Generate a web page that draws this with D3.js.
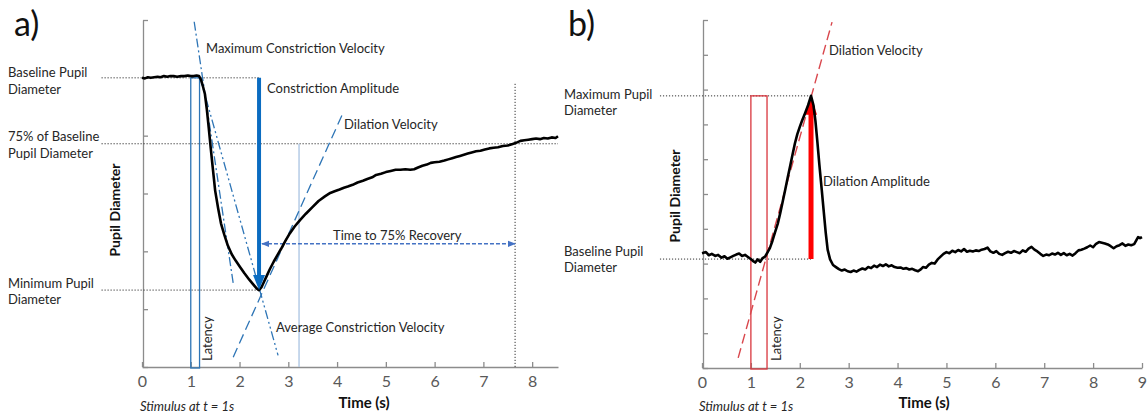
<!DOCTYPE html>
<html>
<head>
<meta charset="utf-8">
<script src="https://cdn.jsdelivr.net/npm/d3@7"></script>
<style>
  html, body { margin: 0; padding: 0; background: #fff; }
  svg { display: block; }
  text { font-family: Lato, "Open Sans", sans-serif; }
</style>
</head>
<body>
<svg id="chart" width="1148" height="414"></svg>
<script>
// ---- Panel a: pupillary light reflex (constriction) ----
const timeA = [0.00,0.06,0.12,0.18,0.25,0.32,0.38,0.45,0.52,0.58,0.65,0.72,0.80,0.87,0.94,1.00,1.06,1.12,1.17,
  1.21,1.25,1.29,1.33,1.37,1.41,1.45,1.50,1.56,1.62,1.69,1.76,1.84,1.92,2.01,2.10,2.20,2.28,2.35,2.40,
  2.45,2.50,2.56,2.62,2.70,2.78,2.85,2.94,3.03,3.13,3.24,3.36,3.50,3.62,3.75,3.86,3.95,4.05,4.14,4.22,
  4.32,4.42,4.53,4.62,4.72,4.80,4.90,5.00,5.10,5.20,5.30,5.40,5.50,5.58,5.66,5.75,5.84,5.92,6.00,6.10,
  6.20,6.28,6.36,6.44,6.52,6.60,6.68,6.76,6.85,6.94,7.03,7.12,7.21,7.30,7.40,7.50,7.60,7.68,7.76,7.84,
  7.92,8.00,8.08,8.16,8.24,8.32,8.40,8.48,8.53];
const pupilA = [5.00,4.99,5.01,5.00,5.01,5.02,5.01,5.03,5.02,5.03,5.03,5.02,5.03,5.03,5.04,5.03,5.03,5.04,5.03,
  4.97,4.85,4.72,4.45,4.12,3.78,3.45,3.05,2.75,2.48,2.28,2.10,1.95,1.84,1.73,1.62,1.51,1.43,1.36,1.33,
  1.38,1.47,1.58,1.69,1.82,1.94,2.04,2.18,2.31,2.43,2.54,2.65,2.77,2.87,2.95,3.01,3.04,3.07,3.10,3.12,
  3.15,3.19,3.22,3.25,3.28,3.32,3.34,3.37,3.39,3.41,3.41,3.42,3.41,3.42,3.45,3.48,3.50,3.53,3.54,3.55,
  3.57,3.59,3.61,3.63,3.65,3.67,3.69,3.71,3.73,3.74,3.76,3.78,3.79,3.80,3.82,3.83,3.855,3.88,3.91,3.92,
  3.93,3.94,3.95,3.94,3.96,3.95,3.97,3.96,3.99];
const xTicksA = [0,1,2,3,4,5,6,7,8];
const yTicksA = [0,1,2,3,4,5,6];

// key measures, panel a
const baselineA = 5.0;        // baseline pupil diameter
const minA = 1.33;            // minimum pupil diameter
const tMinA = 2.4;            // time of minimum
const level75A = 3.86;        // 75% of baseline
const tStimA = 1.0;           // stimulus onset
const tOnsetA = 1.18;         // constriction onset (end of latency)
const t75A = 7.65;            // time the curve regains 75% level
const tRefA = 3.22;           // reference time marker
const tRecoveryArrowLevel = 2.13;
const maxVelLineA = [[1.07, 5.97], [1.87, 1.45]];
const avgVelLineA = [[1.19, 5.01], [2.79, 0.20]];
const dilVelLineA = [[1.87, 0.17], [4.12, 4.39]];

// ---- Panel b: dilation response ----
const timeB = [0.00,0.08,0.14,0.20,0.27,0.33,0.40,0.46,0.52,0.58,0.64,0.70,0.76,0.82,0.88,0.94,0.99,1.04,1.09,1.14,1.19,1.24,1.29,
  1.34,1.39,1.44,1.49,1.55,1.60,1.65,1.70,1.75,1.80,1.85,1.90,1.95,2.00,2.05,2.11,2.17,2.23,
  2.28,2.32,2.36,2.40,2.45,2.49,2.53,2.57,2.62,2.68,2.74,2.80,2.86,2.92,2.98,3.04,3.10,3.16,3.22,3.28,
  3.34,3.40,3.46,3.52,3.58,3.64,3.70,3.76,3.82,3.88,3.94,4.00,4.06,4.12,4.18,4.24,4.30,4.36,4.42,4.48,
  4.52,4.58,4.64,4.70,4.76,4.82,4.88,4.94,5.00,5.06,5.12,5.18,5.24,5.30,5.36,5.42,5.48,5.54,5.60,5.66,
  5.72,5.78,5.84,5.90,5.96,6.02,6.08,6.14,6.20,6.26,6.32,6.38,6.44,6.50,6.56,6.62,6.68,6.74,6.80,6.86,
  6.92,6.98,7.04,7.10,7.16,7.22,7.28,7.34,7.40,7.46,7.52,7.58,7.64,7.70,7.76,7.82,7.88,7.94,8.00,8.06,
  8.12,8.18,8.24,8.30,8.36,8.42,8.48,8.54,8.60,8.66,8.72,8.78,8.84,8.88,8.92,8.96,9.00];
const pupilB = [3.30,3.33,3.24,3.28,3.22,3.25,3.17,3.21,3.14,3.18,3.22,3.26,3.29,3.22,3.25,3.19,3.14,3.08,3.03,3.12,3.05,3.16,3.20,
  3.32,3.45,3.65,3.88,4.15,4.45,4.78,5.11,5.45,5.78,6.12,6.45,6.72,6.93,7.12,7.33,7.55,7.82,
  7.55,7.10,6.50,5.85,5.11,4.50,3.90,3.40,3.12,2.96,2.90,2.84,2.80,2.83,2.78,2.76,2.80,2.77,2.82,2.86,
  2.83,2.90,2.87,2.94,2.90,2.97,2.93,2.98,2.92,2.95,2.90,2.88,2.89,2.85,2.87,2.83,2.85,2.81,2.78,2.84,
  2.90,2.88,2.97,3.02,3.00,3.12,3.20,3.28,3.33,3.30,3.37,3.33,3.39,3.35,3.42,3.34,3.37,3.35,3.38,3.36,
  3.40,3.42,3.46,3.35,3.31,3.36,3.28,3.25,3.30,3.34,3.31,3.36,3.33,3.30,3.38,3.34,3.43,3.48,3.40,3.35,
  3.28,3.22,3.26,3.24,3.29,3.26,3.31,3.25,3.30,3.24,3.28,3.23,3.30,3.38,3.40,3.43,3.47,3.52,3.47,3.57,
  3.62,3.60,3.58,3.55,3.50,3.44,3.50,3.53,3.58,3.51,3.55,3.53,3.56,3.66,3.76,3.73,3.76];
const xTicksB = [0,1,2,3,4,5,6,7,8,9];
const yTicksB = [0,1,2,3,4,5,6,7,8,9,10];

// key measures, panel b
const baselineB = 3.13;
const maxB = 7.82;
const tPeakB = 2.23;
const tStimB = 1.0;
const tOnsetB = 1.33;
const dilVelLineB = [[0.74, 0.29], [2.66, 9.94]];

// ---- drawing ----
const svg = d3.select("#chart");
const AXIS_GREY = "#8c8c8c";
const TICK_TEXT = "#595959";
const BLUE = "#2e75b6";
const BLUE_DARK = "#0b6cc1";
const RED = "#d9363e";

function drawAxes(x, y, xTicks, yTicks, x0, y0) {
  const gx = svg.append("g").attr("transform", `translate(0,${y0})`)
    .call(d3.axisBottom(x).tickValues(xTicks).tickSize(-5).tickSizeOuter(0).tickPadding(9).tickFormat(d3.format("d")));
  const gy = svg.append("g").attr("transform", `translate(${x0},0)`)
    .call(d3.axisLeft(y).tickValues(yTicks).tickSize(-5).tickSizeOuter(0).tickFormat(""));
  [gx, gy].forEach(g => {
    g.select(".domain").attr("stroke", AXIS_GREY).attr("stroke-width", 1.3);
    g.selectAll(".tick line").attr("stroke", AXIS_GREY).attr("stroke-width", 1.3);
    g.selectAll(".tick text").attr("fill", TICK_TEXT).attr("font-size", 16)
      .attr("font-family", "Lato, sans-serif");
  });
}

function seg(x, y, p, q, attrs) {
  const l = svg.append("line")
    .attr("x1", x(p[0])).attr("y1", y(p[1]))
    .attr("x2", x(q[0])).attr("y2", y(q[1]));
  Object.entries(attrs).forEach(([k, v]) => l.attr(k, v));
  return l;
}

function label(txt, px, py, opts = {}) {
  const t = svg.append("text").attr("x", px).attr("y", py).text(txt)
    .attr("font-size", opts.size || 13)
    .attr("fill", opts.fill || "#262626");
  if (opts.weight) t.attr("font-weight", opts.weight);
  if (opts.style) t.attr("font-style", opts.style);
  if (opts.anchor) t.attr("text-anchor", opts.anchor);
  if (opts.rotate) t.attr("transform", `rotate(-90,${px},${py})`);
  return t;
}

const dotted = { stroke: "#333", "stroke-width": 1, "stroke-dasharray": "1.2,1.8" };

// ===== Panel a =====
const xA = d3.scaleLinear().domain([0, 8.53]).range([142, 558]);
const yA = d3.scaleLinear().domain([0, 6]).range([367, 20]);

drawAxes(xA, yA, xTicksA, yTicksA, 143, 367);

// reference dotted lines
seg(xA, yA, [-0.83, baselineA], [tMinA, baselineA], dotted);
seg(xA, yA, [-0.83, level75A], [8.53, level75A], dotted);
seg(xA, yA, [-0.83, minA], [tMinA, minA], dotted);
seg(xA, yA, [t75A, 0], [t75A, 4.9], dotted);

// latency box
svg.append("rect")
  .attr("x", xA(tStimA)).attr("y", yA(baselineA))
  .attr("width", xA(tOnsetA) - xA(tStimA)).attr("height", yA(0) - yA(baselineA) + 1)
  .attr("fill", "none").attr("stroke", BLUE).attr("stroke-width", 1.3);

// thin reference marker
seg(xA, yA, [tRefA, 0], [tRefA, level75A], { stroke: "#a9c4e2", "stroke-width": 1.3 });

// velocity tangents
seg(xA, yA, maxVelLineA[0], maxVelLineA[1], { stroke: BLUE, "stroke-width": 1.3, "stroke-dasharray": "9,3,2,3" });
seg(xA, yA, avgVelLineA[0], avgVelLineA[1], { stroke: BLUE, "stroke-width": 1.3, "stroke-dasharray": "9,3,2,3,2,3" });
seg(xA, yA, dilVelLineA[0], dilVelLineA[1], { stroke: BLUE, "stroke-width": 1.3, "stroke-dasharray": "10,5" });

// time to 75% recovery arrow
const defs = svg.append("defs");
defs.append("marker").attr("id", "arrBlue").attr("viewBox", "0 0 10 10")
  .attr("refX", 9).attr("refY", 5).attr("markerWidth", 5).attr("markerHeight", 5)
  .attr("orient", "auto-start-reverse")
  .append("path").attr("d", "M0,1L10,5L0,9Z").attr("fill", "#4472c4");
seg(xA, yA, [tMinA + 0.06, tRecoveryArrowLevel], [t75A, tRecoveryArrowLevel],
  { stroke: "#4472c4", "stroke-width": 1.6, "stroke-dasharray": "4,2" })
  .attr("marker-start", "url(#arrBlue)").attr("marker-end", "url(#arrBlue)");

// pupil trace
const lineA = d3.line().x((d, i) => xA(timeA[i])).y(d => yA(d)).curve(d3.curveLinear);
svg.append("path").datum(pupilA).attr("d", lineA)
  .attr("fill", "none").attr("stroke", "#000").attr("stroke-width", 2.6)
  .attr("stroke-linejoin", "round");

// constriction amplitude arrow
{
  const ax = xA(tMinA), tip = yA(minA), headH = 15, headW = 12;
  svg.append("line").attr("x1", ax).attr("x2", ax).attr("y1", yA(baselineA)).attr("y2", tip - headH + 1)
    .attr("stroke", BLUE_DARK).attr("stroke-width", 4);
  svg.append("path")
    .attr("d", `M${ax - headW / 2},${tip - headH}L${ax + headW / 2},${tip - headH}L${ax},${tip}Z`)
    .attr("fill", BLUE_DARK);
}

// panel a text
label("a)", 14, 36, { size: 34, fill: "#111" });
label("Baseline Pupil", 8, 77);
label("Diameter", 8, 94);
label("75% of Baseline", 8, 141);
label("Pupil Diameter", 8, 158);
label("Minimum Pupil", 8, 288);
label("Diameter", 8, 304);
label("Maximum Constriction Velocity", 206, 53);
label("Constriction Amplitude", 267, 93);
label("Dilation Velocity", 344, 129);
label("Time to 75% Recovery", 333, 240);
label("Average Constriction Velocity", 276, 332);
label("Latency", 212, 361, { rotate: true });
label("Pupil Diameter", 120, 210, { rotate: true, anchor: "middle", weight: "bold", size: 14, fill: "#111" });
label("Time (s)", 364, 408, { anchor: "middle", weight: "bold", size: 15, fill: "#111" });
label("Stimulus at t = 1s", 140, 411, { style: "italic", size: 13 });

// ===== Panel b =====
const xB = d3.scaleLinear().domain([0, 9]).range([702, 1142]);
const yB = d3.scaleLinear().domain([0, 10]).range([368, 20]);

drawAxes(xB, yB, xTicksB, yTicksB, 703, 368);

seg(xB, yB, [-0.86, maxB], [tPeakB, maxB], dotted);
seg(xB, yB, [-0.86, baselineB], [tPeakB, baselineB], dotted);

svg.append("rect")
  .attr("x", xB(tStimB)).attr("y", yB(maxB))
  .attr("width", xB(tOnsetB) - xB(tStimB)).attr("height", yB(0) - yB(maxB) + 1)
  .attr("fill", "none").attr("stroke", RED).attr("stroke-width", 1.3);

seg(xB, yB, dilVelLineB[0], dilVelLineB[1], { stroke: "#d9474d", "stroke-width": 1.4, "stroke-dasharray": "10,5" });

// dilation amplitude arrow
{
  const ax = xB(tPeakB), tip = yB(maxB) + 1, headH = 18, headW = 12;
  svg.append("line").attr("x1", ax).attr("x2", ax).attr("y1", yB(baselineB)).attr("y2", tip + headH - 1)
    .attr("stroke", "#ff0000").attr("stroke-width", 5);
  svg.append("path")
    .attr("d", `M${ax - headW / 2},${tip + headH}L${ax + headW / 2},${tip + headH}L${ax},${tip}Z`)
    .attr("fill", "#ff0000");
}

const lineB = d3.line().x((d, i) => xB(timeB[i])).y(d => yB(d)).curve(d3.curveLinear);
svg.append("path").datum(pupilB).attr("d", lineB)
  .attr("fill", "none").attr("stroke", "#000").attr("stroke-width", 2.6)
  .attr("stroke-linejoin", "round");

label("b)", 568, 36, { size: 34, fill: "#111" });
label("Maximum Pupil", 564, 99);
label("Diameter", 564, 115);
label("Baseline Pupil", 564, 256);
label("Diameter", 564, 272);
label("Dilation Velocity", 829, 55);
label("Dilation Amplitude", 823, 186);
label("Latency", 781, 361, { rotate: true });
label("Pupil Diameter", 680, 196, { rotate: true, anchor: "middle", weight: "bold", size: 14, fill: "#111" });
label("Time (s)", 924, 408, { anchor: "middle", weight: "bold", size: 15, fill: "#111" });
label("Stimulus at t = 1s", 699, 411, { style: "italic", size: 13 });
</script>
</body>
</html>
